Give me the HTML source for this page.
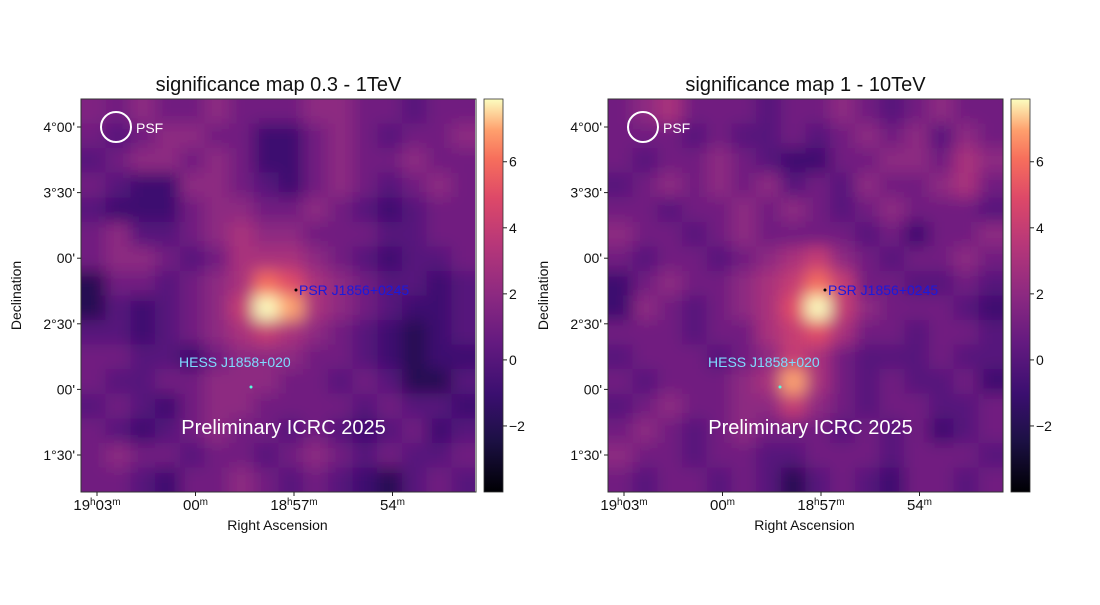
<!DOCTYPE html>
<html><head><meta charset="utf-8"><style>
body{margin:0;background:#fff;}
svg text{font-family:"Liberation Sans","DejaVu Sans",sans-serif;}
</style></head><body>
<svg id="fig" width="1100" height="600" viewBox="0 0 1100 600" xmlns="http://www.w3.org/2000/svg">
<defs>
<filter id="blur" x="-5%" y="-5%" width="110%" height="110%"><feGaussianBlur stdDeviation="8"/></filter>
<linearGradient id="cbar" x1="0" y1="1" x2="0" y2="0">
<stop offset="0" stop-color="#000004"/><stop offset="0.13" stop-color="#1c1044"/><stop offset="0.25" stop-color="#3b0f70"/><stop offset="0.38" stop-color="#641a80"/><stop offset="0.5" stop-color="#8c2981"/><stop offset="0.63" stop-color="#b73779"/><stop offset="0.75" stop-color="#de4968"/><stop offset="0.85" stop-color="#f7705c"/><stop offset="0.92" stop-color="#fe9f6d"/><stop offset="1" stop-color="#fcfdbf"/>
</linearGradient>
<clipPath id="clipL"><rect x="81" y="99" width="394" height="393"/></clipPath>
<clipPath id="clipR"><rect x="608" y="99" width="395" height="393"/></clipPath>
</defs>
</svg>
<script>
const vmin=-4, vmax=7.9;
const cbTicks=[-2,0,2,4,6];
const yTickLabels=["4°00'","3°30'","00'","2°30'","00'","1°30'"];
const xTickLabels=[["19","h","03","m"],["","","00","m"],["18","h","57","m"],["","","54","m"]];
const gridLeft=[
[1.5,1,2,1,1,2,1,1,1,2,2,1,1,0,1,1],
[1,0,1,2,2,1,1,-1,-1,1,2,1,0,1,1,2],
[0,1,2,2,1,2,1,-1,-1,1,2,1,1,2,1,1],
[1,0,-1,-1,2,2,1,0,-1,1,2,1,0,1,2,1],
[0,-1,-1,-1,1,2,2,1,1,2,1,0,-1,0,1,1],
[1,2,0,0,1,2,3,2,2,1,1,1,0,0,1,1],
[1,2,2,1,0,1,3,3,3,2,1,0,-1,0,0,1],
[-2,1,1,0,1,2,3,6,5,3,2,1,0,0,-1,0],
[-2,0,-1,0,1,2,4,8,7,3,2,1,0,-1,-1,0],
[0,0,-1,0,1,2,3,4,3,2,1,0,-1,-2,-1,0],
[1,1,0,0,-1,1,2,2,2,1,1,0,-1,-2,-1,-1],
[1,0,0,1,1,2,2,2,1,1,0,1,0,-2,-2,0],
[0,1,0,-1,1,2,2,1,1,1,1,0,1,0,0,-1],
[1,0,-1,0,1,2,1,1,0,1,0,-1,0,1,-1,0],
[1,2,1,1,0,1,1,0,1,2,1,0,1,0,0,1],
[1,1,0,-1,1,1,2,1,0,1,0,-1,-2,0,1,0]];
const gridRight=[
[1,2,3,1,1,1,0,1,1,2,1,0,1,2,1,1],
[1,1,1,0,1,0,0,1,0,1,2,1,2,0,2,1],
[1,0,1,1,2,1,0,-1,-1,1,1,2,2,1,3,2],
[0,1,2,1,2,1,2,0,1,0,2,1,1,2,3,1],
[1,1,0,1,1,2,1,2,1,0,1,2,1,1,1,0],
[2,1,1,0,1,2,1,1,1,1,0,1,-1,1,1,2],
[1,0,1,1,0,1,2,3,4,2,1,0,1,1,2,1],
[-1,1,2,1,1,2,3,4,6,4,1,1,0,0,1,0],
[-1,2,1,0,1,2,3,5,8,4,2,1,1,1,0,-1],
[1,1,1,0,1,1,3,4,5,3,1,1,0,1,1,0],
[0,1,1,1,0,1,2,4,3,1,0,0,0,1,0,0],
[1,0,1,1,1,2,3,7,3,1,0,1,0,0,1,-1],
[0,1,2,1,1,2,2,4,2,1,0,1,1,0,0,1],
[1,2,1,0,1,2,1,1,1,0,1,0,1,-1,0,1],
[2,1,1,0,1,1,0,0,1,1,1,0,1,1,1,0],
[1,0,1,1,0,1,0,-2,0,1,0,-1,1,1,0,1]];
const stops=[[0,0,0,4],[0.13,28,16,68],[0.25,59,15,112],[0.38,100,26,128],[0.5,140,41,129],[0.63,183,55,121],[0.75,222,73,104],[0.85,247,112,92],[0.92,254,159,109],[1,252,253,191]];
function magma(v){let t=Math.max(0,Math.min(1,(v-vmin)/(vmax-vmin)));
for(let i=1;i<stops.length;i++){if(t<=stops[i][0]){const a=stops[i-1],b=stops[i],f=(t-a[0])/(b[0]-a[0]);
return `rgb(${Math.round(a[1]+f*(b[1]-a[1]))},${Math.round(a[2]+f*(b[2]-a[2]))},${Math.round(a[3]+f*(b[3]-a[3]))})`;}}return "rgb(252,253,191)";}
const NS="http://www.w3.org/2000/svg", svg=document.getElementById('fig');
function el(tag,attrs,parent){const e=document.createElementNS(NS,tag);for(const k in attrs)e.setAttribute(k,attrs[k]);(parent||svg).appendChild(e);return e;}
function txt(s,attrs,parent){const t=el('text',attrs,parent);t.textContent=s;return t;}

function panel(ox,grid,title,clip,psr,hess,prefix){
  const W=395,H=393,top=99;
  const cw=W/grid[0].length, ch=H/grid.length;
  const xs=c=>ox+c*cw, ys=r=>top+r*ch;
  const g=el('g',{'clip-path':`url(#${clip})`});
  
  
  el('rect',{x:ox,y:top,width:W,height:H,fill:magma(1)},g);
  const bl=el('g',{filter:'url(#blur)'},g);
  grid.forEach((row,r)=>row.forEach((v,c)=>{
    const cell=el('rect',{x:xs(c)-(c==0?20:0),y:ys(r)-(r==0?20:0),width:cw+0.6+(c==0||c==row.length-1?20:0),height:ch+0.6+(r==0||r==grid.length-1?20:0),fill:magma(v)},bl);
    
    
  }));
  const fr=el('rect',{x:ox,y:top,width:W,height:H,fill:'none',stroke:'#333','stroke-width':1});
  
  const tt=txt(title,{x:ox+W/2,y:91,'text-anchor':'middle','font-size':20,fill:'#111'});
  
  yTickLabels.forEach((l,i)=>{const y=127+i*65.6;
    el('line',{x1:ox,x2:ox-4,y1:y,y2:y,stroke:'#222'});
    const t=txt(l,{x:ox-6,y:y+5,'text-anchor':'end','font-size':14,fill:'#111'});
    });
  const yl=txt('Declination',{x:0,y:0,transform:`translate(${ox-60},${top+H/2}) rotate(-90)`,'text-anchor':'middle','font-size':14,fill:'#111'});
  
  xTickLabels.forEach((p,i)=>{const x=ox+16+i*98.5;
    el('line',{x1:x,x2:x,y1:top+H,y2:top+H+4,stroke:'#222'});
    const t=el('text',{x:x,y:top+H+18,'text-anchor':'middle','font-size':15,fill:'#111'});
    
    let prevSup=false;
    [[p[0],0],[p[1],1],[p[2],0],[p[3],1]].forEach(([s,sup])=>{if(!s)return;
      const ts=el('tspan',{'font-size':sup?10:15,dy:sup&&!prevSup?-5:(!sup&&prevSup?5:0)},t);ts.textContent=s;prevSup=!!sup;});
  });
  const xl=txt('Right Ascension',{x:ox+W/2-1,y:530,'text-anchor':'middle','font-size':14,fill:'#111'});
  
  const pc=el('circle',{cx:ox+35,cy:127,r:15,fill:'none',stroke:'#fff','stroke-width':2});
  
  const pt=txt('PSF',{x:ox+55,y:133,'font-size':14,fill:'#fff'});
  
  el('circle',{cx:psr[0],cy:psr[1],r:1.5,fill:'#000'});
  const ps=txt('PSR J1856+0245',{x:psr[0]+3,y:psr[1]+5,'font-size':14,fill:'#1a1adc'});
  
  const hs=txt('HESS J1858+020',{x:hess[0],y:hess[1],'font-size':14,fill:'#7fdcff'});
  
  el('circle',{cx:hess[0]+72,cy:hess[1]+20,r:1.5,fill:'#5fd'});
  const pr=txt('Preliminary ICRC 2025',{x:ox+W/2+5,y:434,'text-anchor':'middle','font-size':20,fill:'#fff'});
  
  const cx=ox+W+8;
  const cb=el('rect',{x:cx,y:top,width:19,height:H,fill:'url(#cbar)',stroke:'#333','stroke-width':0.8});
  
  cbTicks.forEach(v=>{const y=top+H-(v-vmin)/(vmax-vmin)*H;
    el('line',{x1:cx+19,x2:cx+23,y1:y,y2:y,stroke:'#222'});
    const t=txt(v<0?'\u2212'+Math.abs(v):String(v),{x:cx+25,y:y+5,'font-size':14,fill:'#111'});
    });
}
panel(81,gridLeft,'significance map 0.3 - 1TeV','clipL',[296,290],[179,367],'left-map');
panel(608,gridRight,'significance map 1 - 10TeV','clipR',[825,290],[708,367],'right-map');
</script>
</body></html>
